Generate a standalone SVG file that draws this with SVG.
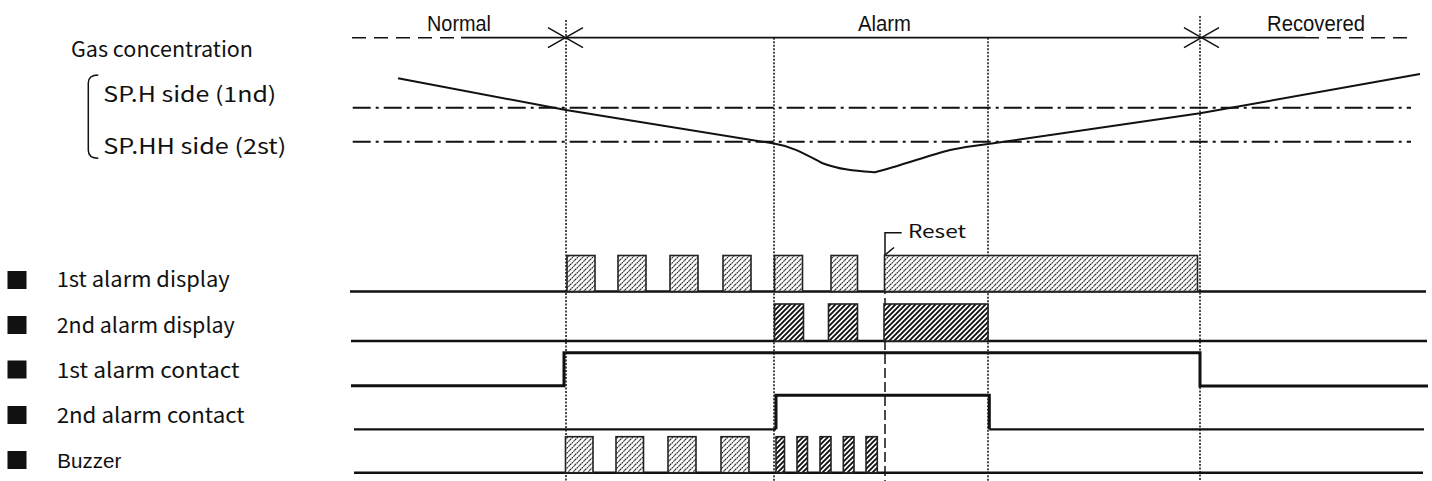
<svg xmlns="http://www.w3.org/2000/svg" width="1432" height="481" viewBox="0 0 1432 481">
<style>
.lbl{font-family:"Noto Sans CJK JP","Noto Sans",sans-serif;font-size:21px;fill:#111}
.hdr{font-family:"Liberation Sans",Arial,sans-serif;font-size:22px;fill:#111}
.thin{fill:none;stroke:#111;stroke-width:1.5}
.dot{fill:none;stroke:#111;stroke-width:1.5;stroke-dasharray:2 1.5}
.dash{fill:none;stroke:#111;stroke-width:1.5;stroke-dasharray:14 8}
.dashdot{fill:none;stroke:#111;stroke-width:2;stroke-dasharray:18 5 3 5}
.sig{fill:none;stroke:#111;stroke-width:3}
.base{fill:none;stroke:#111;stroke-width:2.5}
.lt{fill:url(#hatchLight);stroke:#222;stroke-width:1.6}
.hv{fill:url(#hatchHeavy);stroke:#222;stroke-width:1.6}
.sq{fill:#111}
</style>
<defs>
<pattern id="hatchLight" patternUnits="userSpaceOnUse" width="5" height="5">
<rect width="5" height="5" fill="#fff"/>
<path d="M-1,1 L1,-1 M0,5 L5,0 M4,6 L6,4" stroke="#222" stroke-width="1.1" stroke-dasharray="1.8 0.6"/>
</pattern>
<pattern id="hatchHeavy" patternUnits="userSpaceOnUse" width="5" height="5">
<rect width="5" height="5" fill="#fff"/>
<path d="M-1,1 L1,-1 M0,5 L5,0 M4,6 L6,4" stroke="#111" stroke-width="1.9"/>
</pattern>
<marker id="vhead" markerWidth="18" markerHeight="12" refX="9" refY="11" orient="auto-start-reverse" markerUnits="userSpaceOnUse">
<path d="M1.5,2 L9,11 L16.5,2" fill="none" stroke="#111" stroke-width="1.5"/>
</marker>
</defs>

<g id="phase-labels">
<text class="hdr" x="427" y="30.7" textLength="64" lengthAdjust="spacingAndGlyphs">Normal</text>
<text class="hdr" x="858" y="30.7" textLength="53" lengthAdjust="spacingAndGlyphs">Alarm</text>
<text class="hdr" x="1267" y="30.7" textLength="98" lengthAdjust="spacingAndGlyphs">Recovered</text>
</g>

<g id="gas-labels">
<text class="lbl" x="71" y="56.7" textLength="182" lengthAdjust="spacingAndGlyphs">Gas concentration</text>
<path class="thin" d="M98.3,75 Q88.3,75 88.3,83 V150.3 Q88.3,158.3 98.3,158.3"/>
<text class="lbl" x="103.3" y="101.7" textLength="173" lengthAdjust="spacingAndGlyphs">SP.H side (1nd)</text>
<text class="lbl" x="103.3" y="154" textLength="183" lengthAdjust="spacingAndGlyphs">SP.HH side (2st)</text>
</g>

<g id="row-labels">
<rect class="sq" x="7.5" y="271" width="19" height="18"/>
<text class="lbl" x="56.7" y="287.3" textLength="173" lengthAdjust="spacingAndGlyphs">1st alarm display</text>
<rect class="sq" x="7.5" y="316" width="19" height="18"/>
<text class="lbl" x="56.7" y="332.7" textLength="178" lengthAdjust="spacingAndGlyphs">2nd alarm display</text>
<rect class="sq" x="7.5" y="360.5" width="19" height="18"/>
<text class="lbl" x="56.7" y="377.7" textLength="183" lengthAdjust="spacingAndGlyphs">1st alarm contact</text>
<rect class="sq" x="7.5" y="406" width="19" height="18"/>
<text class="lbl" x="56.7" y="423.3" textLength="188" lengthAdjust="spacingAndGlyphs">2nd alarm contact</text>
<rect class="sq" x="7.5" y="451" width="19" height="18"/>
<text class="hdr" style="font-size:21px" x="57.3" y="468.3" textLength="64" lengthAdjust="spacingAndGlyphs">Buzzer</text>
</g>

<g id="connectors">
<path class="dot" d="M566,20 V481"/>
<path class="dot" d="M774,37.7 V481"/>
<path class="dot" d="M988,37.7 V481"/>
<path class="dot" d="M1200,16 V481"/>
<path fill="none" stroke="#111" stroke-width="1.5" stroke-dasharray="10 4" d="M885,256 V481"/>
<path class="dash" d="M352,37.7 H461"/>
<path fill="none" stroke="#111" stroke-width="1.8" d="M461,37.7 H1305"/>
<path class="dash" d="M1305,37.7 H1411"/>
<path class="thin" d="M548,27.7 L583,47.7 M548,47.7 L583,27.7"/>
<path class="thin" d="M1184,27.7 L1219,47.7 M1184,47.7 L1219,27.7"/>
<path class="dashdot" d="M352.7,107.7 H1411"/>
<path class="dashdot" d="M352.7,141.7 H1411"/>
<path fill="none" stroke="#111" stroke-width="2" d="M398,78.3 L566,110 L774,143.5 C795,147 808,156 822,163 C840,170 858,171 875,172.3 C900,166 930,155 950,150 C965,147 975,145.5 988,144 L1200,113.3 L1420,74"/>
<path class="thin" d="M901.7,232.7 H885 V255" marker-end="url(#vhead)"/>
</g>
<g id="reset-label">
<text class="lbl" style="font-size:18px" x="908" y="238.3" textLength="58" lengthAdjust="spacingAndGlyphs">Reset</text>
</g>

<g id="row1-alarm-display">
<path class="base" d="M350,291.5 H1426"/>
<rect class="lt" x="567" y="255.5" width="28" height="36"/>
<rect class="lt" x="618" y="255.5" width="28" height="36"/>
<rect class="lt" x="670" y="255.5" width="28" height="36"/>
<rect class="lt" x="723" y="255.5" width="28" height="36"/>
<rect class="lt" x="774.5" y="255.5" width="28" height="36"/>
<rect class="lt" x="831" y="255.5" width="26.5" height="36"/>
<rect class="lt" x="884.5" y="255.5" width="313" height="36"/>
</g>

<g id="row2-alarm-display">
<path class="base" d="M351,341 H1427"/>
<rect class="hv" x="774.5" y="304" width="29" height="37"/>
<rect class="hv" x="828.5" y="304" width="29" height="37"/>
<rect class="hv" x="884" y="304" width="104" height="37"/>
</g>

<g id="row3-alarm-contact">
<path class="sig" d="M351,385.7 H564 V352.7 H1200 V386 H1428"/>
</g>

<g id="row4-alarm-contact">
<path fill="none" stroke="#111" stroke-width="2.2" d="M354,429.3 H776"/>
<path class="sig" d="M776,429.3 V395.3 H989.3 V429.3"/>
<path fill="none" stroke="#111" stroke-width="2.2" d="M989.3,429.3 H1424"/>
</g>

<g id="row5-buzzer">
<path class="base" d="M354,472.7 H1423"/>
<rect class="lt" x="565.5" y="436.7" width="27.5" height="36"/>
<rect class="lt" x="616" y="436.7" width="27.5" height="36"/>
<rect class="lt" x="668" y="436.7" width="28" height="36"/>
<rect class="lt" x="721" y="436.7" width="28" height="36"/>
<rect class="hv" x="776" y="436.7" width="8.5" height="36"/>
<rect class="hv" x="797" y="436.7" width="10.5" height="36"/>
<rect class="hv" x="820" y="436.7" width="11" height="36"/>
<rect class="hv" x="843.3" y="436.7" width="10.7" height="36"/>
<rect class="hv" x="866" y="436.7" width="11.3" height="36"/>
</g>
</svg>
